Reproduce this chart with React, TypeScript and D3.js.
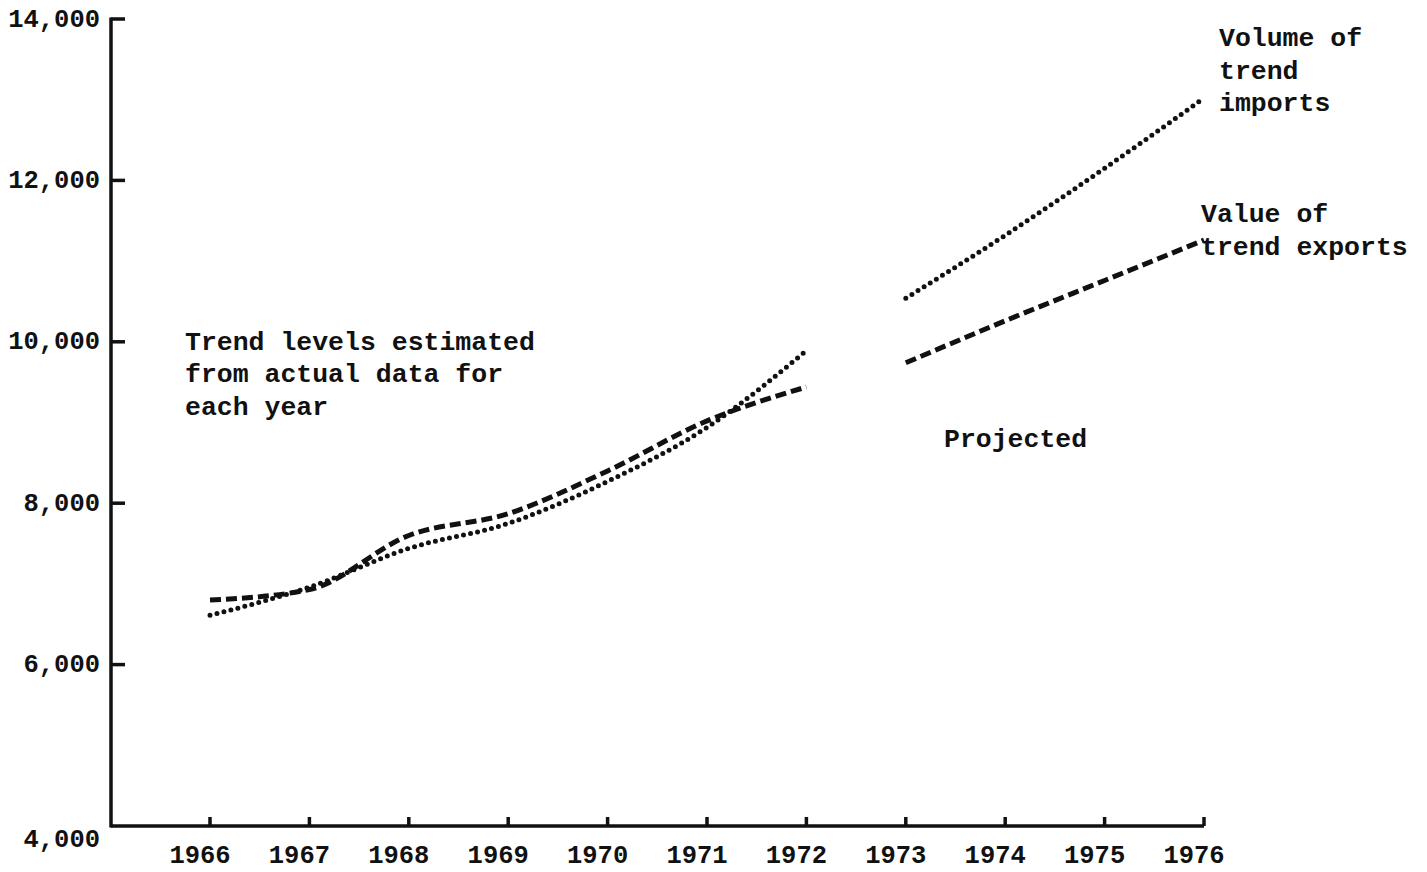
import React from "react";
import * as d3 from "d3";

const actualYears = [1966, 1967, 1968, 1969, 1970, 1971, 1972];
const projectedYears = [1973, 1974, 1975, 1976];
const exportsActual = [6800, 6930, 7600, 7870, 8400, 9020, 9440];
const importsActual = [6610, 6960, 7440, 7750, 8270, 8940, 9890];
const exportsProjected = [9740, 10260, 10760, 11260];
const importsProjected = [10540, 11320, 12150, 13020];
const yTicks = [4000, 6000, 8000, 10000, 12000, 14000];
const xTicks = [1966, 1967, 1968, 1969, 1970, 1971, 1972, 1973, 1974, 1975, 1976];

const W = 1427;
const H = 872;
const FONT = "'Liberation Mono', 'Courier New', 'DejaVu Sans Mono', monospace";
const INK = "#111";

export default function App() {
  const x = d3.scaleLinear().domain([1966, 1976]).range([210, 1204]);
  const y = d3.scaleLinear().domain([4000, 14000]).range([826, 19]);
  const line = d3
    .line<[number, number]>()
    .x((d) => x(d[0]))
    .y((d) => y(d[1]))
    .curve(d3.curveMonotoneX);

  const zip = (a: number[], b: number[]) => a.map((v, i) => [v, b[i]] as [number, number]);

  const dashed = { fill: "none", stroke: INK, strokeWidth: 5, strokeDasharray: "11 5" };
  const dotted = {
    fill: "none",
    stroke: INK,
    strokeWidth: 5,
    strokeDasharray: "0 7.2",
    strokeLinecap: "round" as const,
  };

  const textStyle = { fontFamily: FONT, fontWeight: 700, fontSize: 26.5, fill: INK };
  const tickStyle = { fontFamily: FONT, fontWeight: 700, fontSize: 25.5, fill: INK };

  return (
    <svg
      width={W}
      height={H}
      style={{ position: "absolute", left: 0, top: 0, background: "#fff" }}
    >
      <rect x={0} y={0} width={W} height={H} fill="#fff" />
      {/* axes */}
      <line x1={111} x2={111} y1={y(14000) - 1.5} y2={y(4000) + 1.5} stroke={INK} strokeWidth={3.5} />
      <line x1={111} x2={x(1976)} y1={y(4000)} y2={y(4000)} stroke={INK} strokeWidth={3.5} />
      {yTicks.slice(1).map((t) => (
        <g key={t}>
          <line x1={111} x2={125} y1={y(t)} y2={y(t)} stroke={INK} strokeWidth={3.5} />
          <text x={100} y={y(t) + 1} textAnchor="end" dominantBaseline="central" style={tickStyle}>
            {d3.format(",")(t)}
          </text>
        </g>
      ))}
      <text x={100} y={y(4000) + 14} textAnchor="end" dominantBaseline="central" style={tickStyle}>
        {d3.format(",")(yTicks[0])}
      </text>
      {xTicks.map((t) => (
        <g key={t}>
          <line x1={x(t)} x2={x(t)} y1={y(4000)} y2={y(4000) - 9} stroke={INK} strokeWidth={3.5} />
          <text x={x(t) - 10} y={863} textAnchor="middle" style={tickStyle}>
            {t}
          </text>
        </g>
      ))}

      {/* series */}
      <path d={line(zip(actualYears, exportsActual)) || ""} style={dashed} />
      <path d={line(zip(actualYears, importsActual)) || ""} style={dotted} />
      <path d={line(zip(projectedYears, exportsProjected)) || ""} style={dashed} />
      <path d={line(zip(projectedYears, importsProjected)) || ""} style={dotted} />

      {/* annotations */}
      <text style={textStyle}>
        <tspan x={185} y={350}>Trend levels estimated</tspan>
        <tspan x={185} y={382}>from actual data for</tspan>
        <tspan x={185} y={415}>each year</tspan>
      </text>
      <text x={944} y={447} style={textStyle}>Projected</text>
      <text style={textStyle}>
        <tspan x={1219} y={46}>Volume of</tspan>
        <tspan x={1219} y={79}>trend</tspan>
        <tspan x={1219} y={111}>imports</tspan>
      </text>
      <text style={textStyle}>
        <tspan x={1201} y={222}>Value of</tspan>
        <tspan x={1201} y={255}>trend exports</tspan>
      </text>
    </svg>
  );
}
